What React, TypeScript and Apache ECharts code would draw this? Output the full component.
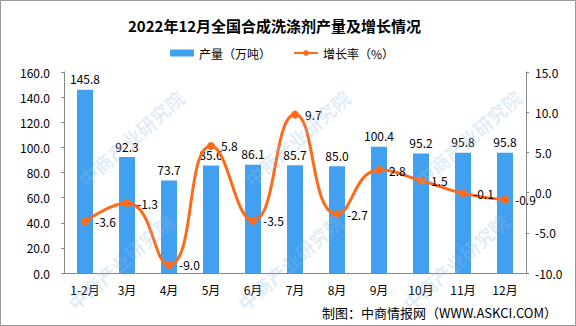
import React, { useEffect, useRef } from "react";
import * as echarts from "echarts";

const categories = ["1-2月", "3月", "4月", "5月", "6月", "7月", "8月", "9月", "10月", "11月", "12月"];
const production = [145.8, 92.3, 73.7, 85.6, 86.1, 85.7, 85.0, 100.4, 95.2, 95.8, 95.8];
const growth = [-3.6, -1.3, -9.0, 5.8, -3.5, 9.7, -2.7, 2.8, 1.5, -0.1, -0.9];
const titleText = "2022年12月全国合成洗涤剂产量及增长情况";
const barName = "产量（万吨）";
const lineName = "增长率（%）";
const sourceText = "制图：中商情报网（WWW.ASKCI.COM）";
const watermarkText = "中商产业研究院";

const FONT = "'Noto Sans CJK SC', 'Noto Sans', sans-serif";

export default function App() {
  const ref = useRef<HTMLDivElement>(null);
  useEffect(() => {
    document.body.style.margin = "0";
    const chart = echarts.init(ref.current!, null, { renderer: "svg" });
    const wmPositions = [
      [131, 138], [297, 138], [468, 138],
      [120, 262], [290, 262], [455, 262],
    ];
    const watermarks = wmPositions.map(([x, y]) => ({
      type: "text",
      x,
      y,
      rotation: 0.72,
      z: 100,
      silent: true,
      style: {
        text: watermarkText,
        fill: "rgba(150,190,225,0.28)",
        font: `bold 19px ${FONT}`,
        textAlign: "center",
        textVerticalAlign: "middle",
      },
    }));
    chart.setOption({
      animation: false,
      textStyle: { fontFamily: FONT },
      title: {
        text: titleText,
        left: 123,
        top: 13,
        textStyle: { fontSize: 15, fontWeight: "bold", color: "#000", fontFamily: FONT },
      },
      legend: {
        left: 165,
        top: 42,
        itemWidth: 24,
        itemHeight: 7,
        itemGap: 22,
        textStyle: { fontSize: 12, color: "#000", fontFamily: FONT },
        data: [{ name: barName, icon: "rect" }, { name: lineName }],
      },
      grid: { left: 64, right: 50, top: 72, bottom: 53 },
      xAxis: {
        type: "category",
        data: categories,
        axisLine: { lineStyle: { color: "#888" } },
        axisTick: { length: 4, lineStyle: { color: "#888" } },
        axisLabel: { color: "#000", margin: 10, fontSize: 12, fontFamily: FONT },
      },
      yAxis: [
        {
          type: "value",
          min: 0,
          max: 160,
          interval: 20,
          axisLine: { show: true, lineStyle: { color: "#888" } },
          axisTick: { show: true, length: 3, lineStyle: { color: "#888" } },
          axisLabel: { color: "#000", margin: 14, fontSize: 12, fontFamily: FONT, formatter: (v: number) => v.toFixed(1) },
          splitLine: { show: false },
        },
        {
          type: "value",
          min: -10,
          max: 15,
          interval: 5,
          position: "right",
          axisLine: { show: true, lineStyle: { color: "#888" } },
          axisTick: { show: true, length: 3, lineStyle: { color: "#888" } },
          axisLabel: { color: "#000", margin: 9, fontSize: 12, fontFamily: FONT, formatter: (v: number) => v.toFixed(1) },
          splitLine: { show: false },
        },
      ],
      series: [
        {
          name: barName,
          type: "bar",
          data: production,
          barWidth: 16,
          itemStyle: { color: "#41A0F0" },
          label: {
            show: true,
            position: "top",
            distance: 5,
            color: "#000",
            fontSize: 12,
            fontFamily: FONT,
            formatter: (p: any) => Number(p.value).toFixed(1),
          },
        },
        {
          name: lineName,
          type: "line",
          yAxisIndex: 1,
          data: growth,
          smooth: true,
          symbol: "circle",
          symbolSize: 8,
          itemStyle: { color: "#FF6A1A" },
          lineStyle: { color: "#FF6A1A", width: 3 },
          label: {
            show: true,
            position: "right",
            distance: 6,
            color: "#000",
            fontSize: 12,
            fontFamily: FONT,
            formatter: (p: any) => Number(p.value).toFixed(1),
          },
        },
      ],
      graphic: [
        {
          type: "rect",
          shape: { x: 0.5, y: 0.5, width: 575, height: 325 },
          style: { fill: "none", stroke: "#999", lineWidth: 1 },
          silent: true,
        },
        {
          type: "text",
          x: 557,
          y: 312,
          style: {
            text: sourceText,
            fill: "#000",
            font: `13px ${FONT}`,
            textAlign: "right",
            textVerticalAlign: "middle",
          },
        },
        ...watermarks,
      ],
    });
    return () => chart.dispose();
  }, []);
  return <div ref={ref} style={{ width: 576, height: 326 }} />;
}
